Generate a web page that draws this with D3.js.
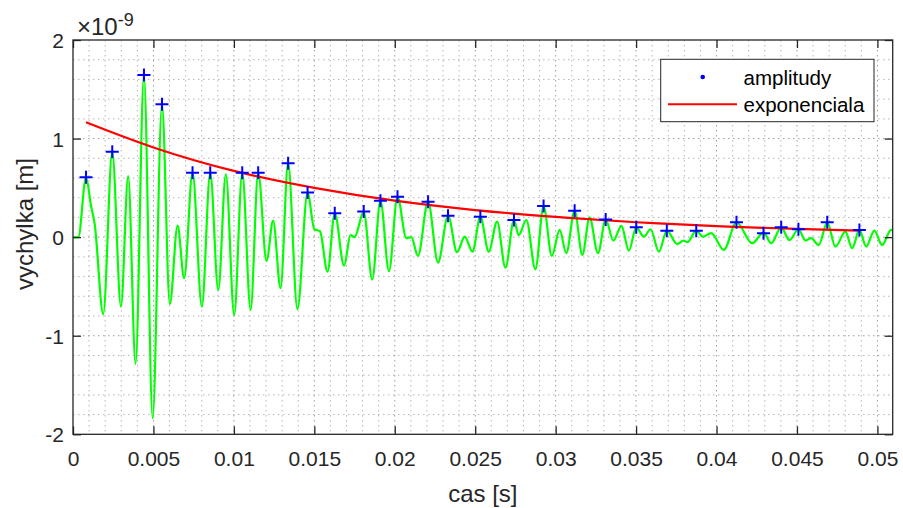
<!DOCTYPE html>
<html>
<head>
<meta charset="utf-8">
<script src="https://cdn.jsdelivr.net/npm/d3@7"></script>
<style>
  body { margin: 0; background: #fff; }
  text { font-family: "Liberation Sans", Arial, Helvetica, sans-serif; fill: #262626; }
</style>
</head>
<body>
<svg id="chart"></svg>
<script>
// signal: time [s], displacement [x 1e-9 m]
const signalT = [0, 0.00033, 0.00081, 0.00112, 0.00135, 0.00188, 0.00244, 0.00298, 0.00343, 0.00389,
  0.00441, 0.00495, 0.00553, 0.00602, 0.0065, 0.00691, 0.00743, 0.00801, 0.00853, 0.00903,
  0.0095, 0.01002, 0.01052, 0.01104, 0.01151, 0.01203, 0.01244, 0.0129, 0.01337, 0.01395,
  0.01458, 0.0150, 0.01535, 0.01582, 0.01627, 0.01685, 0.01725, 0.0175, 0.01807, 0.0186,
  0.01911, 0.01964, 0.02017, 0.02072, 0.02103, 0.02144, 0.02207, 0.02269, 0.02331, 0.02387,
  0.02435, 0.02483, 0.02532, 0.02584, 0.02636, 0.02688, 0.02741, 0.0277, 0.02818, 0.02874,
  0.02925, 0.02976, 0.03025, 0.03066, 0.03118, 0.03166, 0.03211, 0.03263, 0.03311, 0.03359,
  0.03409, 0.03455, 0.03501, 0.03548, 0.0359, 0.03642, 0.03691, 0.03755, 0.03795, 0.0382,
  0.03874, 0.03915, 0.03967, 0.04045, 0.04124, 0.04222, 0.04292, 0.0434, 0.04402, 0.04453,
  0.04509, 0.04553, 0.04588, 0.04635, 0.04688, 0.04739, 0.04801, 0.04843, 0.04888, 0.0493,
  0.04981, 0.05029, 0.05085, 0.051];
const signalV = [0, 0, 0.607, 0.32, 0.13, -0.78, 0.867, -0.705, 0.62, -1.286,
  1.645, -1.837, 1.348, -0.68, 0.117, -0.417, 0.654, -0.705, 0.654, -0.536,
  0.638, -0.789, 0.654, -0.738, 0.654, -0.241, 0.167, -0.518, 0.75, -0.73,
  0.452, 0.08, 0.06, -0.35, 0.242, -0.29, 0.02, 0.0, 0.259, -0.43,
  0.37, -0.345, 0.411, -0.01, 0.0, -0.19, 0.36, -0.258, 0.218, -0.152,
  0.005, -0.147, 0.208, -0.147, 0.157, -0.31, 0.174, 0.02, 0.174, -0.326,
  0.316, -0.19, 0.073, -0.163, 0.269, -0.18, 0.2, -0.163, 0.18, -0.035,
  0.115, -0.137, 0.1, 0.005, 0.08, -0.147, 0.066, -0.07, -0.035, -0.05,
  0.066, 0.005, 0.04, -0.13, 0.151, -0.062, 0.045, -0.062, 0.1, -0.03,
  0.08, -0.035, -0.01, -0.08, 0.151, -0.096, 0.056, -0.113, 0.073, -0.096,
  0.066, -0.08, 0.073, 0.07];

// detected amplitudes
const peakT = [0.00081, 0.00244, 0.00441, 0.00553, 0.00743, 0.00853, 0.01052, 0.01151, 0.01337, 0.01458,
  0.01627, 0.01807, 0.01911, 0.02017, 0.02207, 0.02331, 0.02532, 0.02741, 0.02925, 0.03118,
  0.03311, 0.03501, 0.03691, 0.03874, 0.04124, 0.04292, 0.04402, 0.04509, 0.04688, 0.04888];
const peakV = [0.607, 0.867, 1.645, 1.348, 0.654, 0.654, 0.654, 0.654, 0.75, 0.452,
  0.242, 0.259, 0.37, 0.411, 0.36, 0.218, 0.208, 0.174, 0.316, 0.269,
  0.18, 0.1, 0.066, 0.066, 0.151, 0.04, 0.1, 0.08, 0.151, 0.073];

// exponential envelope
const expT = [0.00081, 0.005, 0.01, 0.015, 0.02, 0.025, 0.03, 0.035, 0.04, 0.045, 0.04888];
const expV = [1.165, 0.91, 0.672, 0.50, 0.37, 0.275, 0.205, 0.151, 0.112, 0.083, 0.066];

const xTicks = [0, 0.005, 0.01, 0.015, 0.02, 0.025, 0.03, 0.035, 0.04, 0.045, 0.05];
const xTickLabels = ["0", "0.005", "0.01", "0.015", "0.02", "0.025", "0.03", "0.035", "0.04", "0.045", "0.05"];
const yTicks = [-2, -1, 0, 1, 2];
const yTickLabels = ["-2", "-1", "0", "1", "2"];
const legendLabels = ["amplitudy", "exponenciala"];

const width = 903;
const height = 508;
const plotLeft = 73, plotRight = 892.7, plotTop = 40, plotBottom = 434.3;

let svg = d3.select("#chart")
  .attr("width", width)
  .attr("height", height);

const x = d3.scaleLinear().domain([0, 0.05095]).range([plotLeft, plotRight]);
const y = d3.scaleLinear().domain([-2, 2]).range([plotBottom, plotTop]);

// grid, dotted like matlab's grid minor
let grid = svg.append("g")
  .style("stroke", "#9a9a9a")
  .style("stroke-width", 1)
  .style("stroke-dasharray", "1.5,3.5");
d3.range(1, 51).forEach(function(k) {
  const t = k * 0.001;
  grid.append("line")
    .attr("x1", x(t)).attr("x2", x(t))
    .attr("y1", plotTop).attr("y2", plotBottom)
    .style("opacity", k % 5 === 0 ? 0.95 : 0.7);
});
d3.range(-9, 10).forEach(function(k) {
  const v = k * 0.2;
  grid.append("line")
    .attr("x1", plotLeft).attr("x2", plotRight)
    .attr("y1", y(v)).attr("y2", y(v))
    .style("opacity", k % 5 === 0 ? 0.95 : 0.7);
});

svg.append("clipPath").attr("id", "plotClip")
  .append("rect")
  .attr("x", plotLeft).attr("y", plotTop)
  .attr("width", plotRight - plotLeft).attr("height", plotBottom - plotTop);

const signal = signalT.map((t, i) => ({t: t, v: signalV[i]}));
const line = d3.line()
  .x(d => x(d.t))
  .y(d => y(d.v))
  .curve(d3.curveMonotoneX);

svg.append("path")
  .attr("clip-path", "url(#plotClip)")
  .attr("d", line(signal))
  .attr("fill", "none")
  .attr("stroke", "#00ff00")
  .attr("stroke-width", 2.2);

const envelope = expT.map((t, i) => ({t: t, v: expV[i]}));
svg.append("path")
  .attr("d", line.curve(d3.curveNatural)(envelope))
  .attr("fill", "none")
  .attr("stroke", "#ff0000")
  .attr("stroke-width", 2.2);

svg.append("g").selectAll("path")
  .data(peakT.map((t, i) => ({t: t, v: peakV[i]})))
  .join("path")
  .attr("d", "M-6.5,0H6.5M0,-6.5V6.5")
  .attr("transform", d => `translate(${x(d.t)},${y(d.v)})`)
  .attr("stroke", "#0000ff")
  .attr("stroke-width", 2);

// axes, ticks inside on all four sides
function styleAxis(g) {
  g.select(".domain").remove();
  g.selectAll(".tick line").attr("stroke", "#262626").attr("stroke-width", 1.3);
  g.selectAll(".tick text").style("font-size", "21px").attr("fill", "#262626");
}
svg.append("g")
  .attr("transform", `translate(0,${plotBottom})`)
  .call(d3.axisBottom(x).tickValues(xTicks).tickSizeInner(-8).tickSizeOuter(0)
    .tickFormat((d, i) => xTickLabels[i]))
  .call(styleAxis)
  .selectAll(".tick text")
  .attr("y", 31.5)
  .attr("dy", 0);
svg.append("g")
  .attr("transform", `translate(0,${plotTop})`)
  .call(d3.axisTop(x).tickValues(xTicks).tickSizeInner(-8).tickSizeOuter(0).tickFormat(""))
  .call(styleAxis);
svg.append("g")
  .attr("transform", `translate(${plotLeft},0)`)
  .call(d3.axisLeft(y).tickValues(yTicks).tickSizeInner(-8).tickSizeOuter(0).tickPadding(9)
    .tickFormat((d, i) => yTickLabels[i]))
  .call(styleAxis)
  .selectAll(".tick text")
  .attr("dy", "0.36em");
svg.append("g")
  .attr("transform", `translate(${plotRight},0)`)
  .call(d3.axisRight(y).tickValues(yTicks).tickSizeInner(-8).tickSizeOuter(0).tickFormat(""))
  .call(styleAxis);

svg.append("rect")
  .attr("x", plotLeft).attr("y", plotTop)
  .attr("width", plotRight - plotLeft).attr("height", plotBottom - plotTop)
  .attr("fill", "none")
  .attr("stroke", "#262626")
  .attr("stroke-width", 1.3);

// exponent label
let expo = svg.append("text")
  .attr("x", 77)
  .attr("y", 35)
  .style("font-size", "24px");
expo.append("tspan").text("\u00d710");
expo.append("tspan").attr("dy", -9).style("font-size", "18px").text("-9");

svg.append("text")
  .attr("x", (plotLeft + plotRight) / 2)
  .attr("y", 502)
  .attr("text-anchor", "middle")
  .style("font-size", "24px")
  .text("cas [s]");

svg.append("text")
  .attr("transform", `translate(33,224) rotate(-90)`)
  .attr("text-anchor", "middle")
  .style("font-size", "24px")
  .text("vychylka [m]");

// legend
let legend = svg.append("g");
legend.append("rect")
  .attr("x", 660.7).attr("y", 59.3)
  .attr("width", 213.3).attr("height", 62.4)
  .attr("fill", "#fff")
  .attr("stroke", "#262626")
  .attr("stroke-width", 1);
legend.append("circle")
  .attr("cx", 702.7).attr("cy", 77)
  .attr("r", 2.3)
  .attr("fill", "#0000ff");
legend.append("line")
  .attr("x1", 668).attr("x2", 737)
  .attr("y1", 104.3).attr("y2", 104.3)
  .attr("stroke", "#ff0000")
  .attr("stroke-width", 2);
legend.selectAll("text.lab")
  .data(legendLabels)
  .join("text")
  .attr("class", "lab")
  .attr("x", 743.5)
  .attr("y", (d, i) => 85 + i * 27)
  .style("font-size", "20.5px")
  .style("fill", "#000")
  .text(d => d);
</script>
</body>
</html>
